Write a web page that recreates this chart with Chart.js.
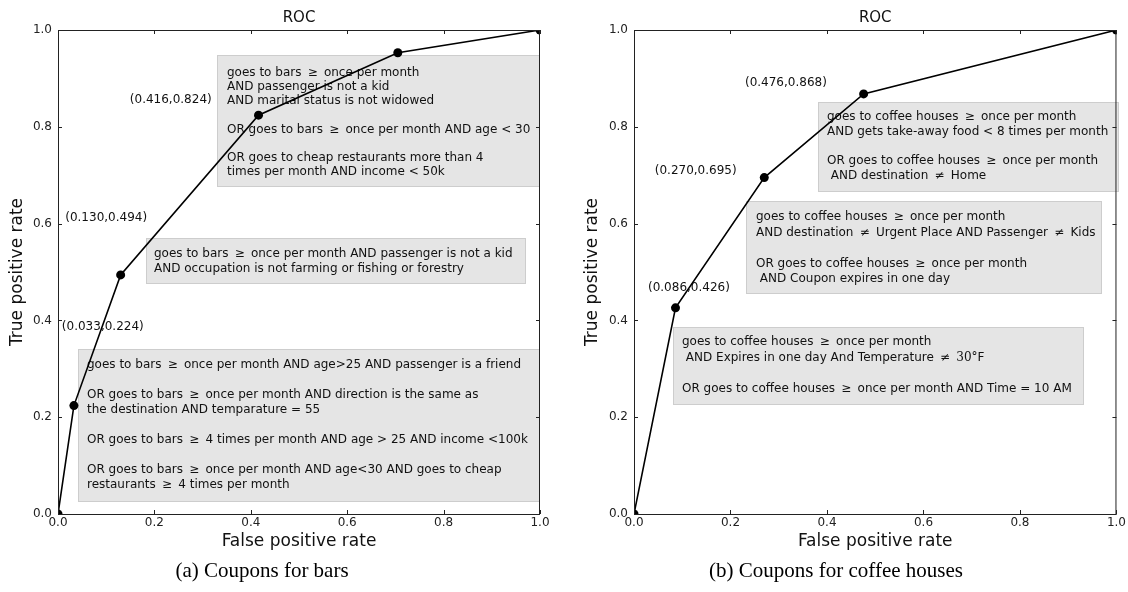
<!DOCTYPE html>
<html><head><meta charset="utf-8">
<script src="https://cdn.jsdelivr.net/npm/chart.js@4.4.0/dist/chart.umd.min.js"></script>
<style>
html,body{margin:0;padding:0;background:#fff;}
#wrap{position:relative;width:1128px;height:592px;overflow:hidden;}
.cv{position:absolute;top:0;width:564px;height:592px;}
</style></head><body>
<div id="wrap">
<div class="cv" style="left:0"><canvas id="c1" width="564" height="592"></canvas></div>
<div class="cv" style="left:564px"><canvas id="c2" width="564" height="592"></canvas></div>
</div>
<script>
// ---------- data ----------
const tickValues = [0, 0.2, 0.4, 0.6, 0.8, 1.0];
const tickLabels = ['0.0', '0.2', '0.4', '0.6', '0.8', '1.0'];

const barsFPR = [0, 0.033, 0.130, 0.416, 0.705, 1.0];
const barsTPR = [0, 0.224, 0.494, 0.824, 0.953, 1.0];
const barsPointLabels = ['', '(0.033,0.224)', '(0.130,0.494)', '(0.416,0.824)', '', ''];

const coffeeFPR = [0, 0.086, 0.270, 0.476, 1.0];
const coffeeTPR = [0, 0.426, 0.695, 0.868, 1.0];
const coffeePointLabels = ['', '(0.086,0.426)', '(0.270,0.695)', '(0.476,0.868)', ''];

const GE = '\u2009\u2265\u2009', NE = '\u2009\u2260\u2009';
const barsRuleTop = [
  'goes to bars ' + GE + ' once per month',
  'AND passenger is not a kid',
  'AND marital status is not widowed',
  '',
  'OR goes to bars ' + GE + ' once per month AND age < 30',
  '',
  'OR goes to cheap restaurants more than 4',
  'times per month AND income < 50k'
];
const barsRuleMid = [
  'goes to bars ' + GE + ' once per month AND passenger is not a kid',
  'AND occupation is not farming or fishing or forestry'
];
const barsRuleLow = [
  'goes to bars ' + GE + ' once per month AND age>25 AND passenger is a friend',
  '',
  'OR goes to bars ' + GE + ' once per month AND direction is the same as',
  'the destination AND temparature = 55',
  '',
  'OR goes to bars ' + GE + ' 4 times per month AND age > 25 AND income <100k',
  '',
  'OR goes to bars ' + GE + ' once per month AND age<30 AND goes to cheap',
  'restaurants ' + GE + ' 4 times per month'
];
const coffeeRuleTop = [
  'goes to coffee houses ' + GE + ' once per month',
  'AND gets take-away food < 8 times per month',
  '',
  'OR goes to coffee houses ' + GE + ' once per month',
  ' AND destination ' + NE + ' Home'
];
const coffeeRuleMid = [
  'goes to coffee houses ' + GE + ' once per month',
  'AND destination ' + NE + ' Urgent Place AND Passenger ' + NE + ' Kids',
  '',
  'OR goes to coffee houses ' + GE + ' once per month',
  ' AND Coupon expires in one day'
];
const coffeeRuleLow = [
  'goes to coffee houses ' + GE + ' once per month',
  ' AND Expires in one day And Temperature ' + NE + ' {30\u00b0}F',
  '',
  'OR goes to coffee houses ' + GE + ' once per month AND Time = 10 AM'
];

// ---------- layout (positions in data units of each axes) ----------
const leftLayout = {
  yAxisWidth: 58, rightPad: 24, yTitleX: 18, captionX: 262,
  caption: '(a) Coupons for bars',
  boxes: [
    {lines: barsRuleTop, x0: 0.330, x1: 1.0, y0: 0.676, y1: 0.949, padX: 10, firstY: 18, lh: 14.15},
    {lines: barsRuleMid, x0: 0.183, x1: 0.971, y0: 0.476, y1: 0.571, padX: 8, firstY: 16, lh: 15},
    {lines: barsRuleLow, x0: 0.041, x1: 1.0, y0: 0.025, y1: 0.341, padX: 9, firstY: 16, lh: 15}
  ],
  labelPos: [null, [0.008, 0.387], [0.015, 0.612], [0.149, 0.856], null, null]
};
const rightLayout = {
  yAxisWidth: 70, rightPad: 11, yTitleX: 29, captionX: 272,
  caption: '(b) Coupons for coffee houses',
  boxes: [
    {lines: coffeeRuleTop, x0: 0.381, x1: 1.006, y0: 0.666, y1: 0.852, padX: 9, firstY: 15, lh: 14.75},
    {lines: coffeeRuleMid, x0: 0.232, x1: 0.971, y0: 0.455, y1: 0.647, padX: 10, firstY: 16, lh: 15.5},
    {lines: coffeeRuleLow, x0: 0.081, x1: 0.932, y0: 0.225, y1: 0.387, padX: 9, firstY: 15, lh: 15.67}
  ],
  labelPos: [null, [0.029, 0.467], [0.043, 0.709], [0.230, 0.891], null]
};

const SANS = '"DejaVu Sans", sans-serif';

function drawRich(ctx, line, x, y) {
  const parts = line.split(/\{([^}]*)\}/);
  let cx = x;
  parts.forEach((p, i) => {
    if (!p) return;
    ctx.font = i % 2 ? '12px "DejaVu Serif", serif' : '12px ' + SANS;
    ctx.fillText(p, cx, y);
    cx += ctx.measureText(p).width;
  });
}

function decoPlugin(L, pointLabels) {
  return {
    id: 'deco',
    beforeDatasetsDraw(chart) {
      const ctx = chart.ctx, xs = chart.scales.x, ys = chart.scales.y;
      ctx.save();
      L.boxes.forEach(b => {
        const l = Math.round(xs.getPixelForValue(b.x0)), r = Math.round(xs.getPixelForValue(b.x1));
        const t = Math.round(ys.getPixelForValue(b.y1)), bt = Math.round(ys.getPixelForValue(b.y0));
        ctx.fillStyle = '#e5e5e5';
        ctx.fillRect(l, t, r - l, bt - t);
        ctx.strokeStyle = '#cdcdcd';
        ctx.lineWidth = 1;
        ctx.strokeRect(l + 0.5, t + 0.5, r - l - 1, bt - t - 1);
        ctx.fillStyle = '#111';
        ctx.textAlign = 'left';
        ctx.textBaseline = 'middle';
        b.lines.forEach((ln, i) => drawRich(ctx, ln, l + b.padX, t + b.firstY + i * b.lh));
      });
      ctx.fillStyle = '#111';
      ctx.font = '12px ' + SANS;
      ctx.textAlign = 'left';
      ctx.textBaseline = 'middle';
      pointLabels.forEach((txt, i) => {
        const p = L.labelPos[i];
        if (!txt || !p) return;
        ctx.fillText(txt, xs.getPixelForValue(p[0]), ys.getPixelForValue(p[1]));
      });
      ctx.restore();
    },
    afterDraw(chart) {
      const ctx = chart.ctx, a = chart.chartArea, xs = chart.scales.x, ys = chart.scales.y;
      ctx.save();
      ctx.strokeStyle = '#222';
      ctx.lineWidth = 1;
      ctx.strokeRect(a.left + 0.5, a.top + 0.5, a.right - a.left - 1, a.bottom - a.top);
      ctx.beginPath();
      tickValues.forEach(v => {
        const px = Math.round(xs.getPixelForValue(v)) + 0.5;
        ctx.moveTo(px, a.bottom); ctx.lineTo(px, a.bottom - 4);
        ctx.moveTo(px, a.top); ctx.lineTo(px, a.top + 4);
        const py = Math.round(ys.getPixelForValue(v)) + 0.5;
        ctx.moveTo(a.left, py); ctx.lineTo(a.left + 4, py);
        ctx.moveTo(a.right, py); ctx.lineTo(a.right - 4, py);
      });
      ctx.stroke();
      const cx = (a.left + a.right) / 2;
      ctx.fillStyle = '#111';
      ctx.textAlign = 'center';
      ctx.textBaseline = 'middle';
      ctx.font = '15px ' + SANS;
      ctx.fillText('ROC', cx, 18);
      ctx.font = '17px ' + SANS;
      ctx.fillText('False positive rate', cx, 542);
      ctx.save();
      ctx.translate(L.yTitleX, (a.top + a.bottom) / 2);
      ctx.rotate(-Math.PI / 2);
      ctx.fillText('True positive rate', 0, 0);
      ctx.restore();
      ctx.fillStyle = '#000';
      ctx.font = '21px "Liberation Serif", "Times New Roman", serif';
      ctx.fillText(L.caption, L.captionX, 571);
      ctx.restore();
    }
  };
}

function makeChart(id, xs, ys, pointLabels, L) {
  const pts = xs.map((v, i) => ({x: v, y: ys[i]}));
  return new Chart(document.getElementById(id), {
    type: 'scatter',
    data: {datasets: [{
      data: pts, showLine: true, borderColor: '#000', borderWidth: 1.6,
      pointRadius: 4.5, pointHoverRadius: 4.5, pointBackgroundColor: '#000', pointBorderColor: '#000',
      pointBorderWidth: 0, clip: 0, tension: 0
    }]},
    options: {
      responsive: false, animation: false, devicePixelRatio: 1,
      layout: {padding: {left: 0, top: 30, right: L.rightPad, bottom: 0}},
      plugins: {legend: {display: false}, tooltip: {enabled: false}, title: {display: false}},
      scales: {
        x: {type: 'linear', min: 0, max: 1,
          grid: {display: false, drawTicks: false}, border: {display: false},
          afterBuildTicks: s => { s.ticks = tickValues.map(v => ({value: v})); },
          ticks: {callback: (v) => tickLabels[tickValues.indexOf(v)] ?? '', padding: 2, maxRotation: 0,
                  color: '#222', font: {family: 'DejaVu Sans', size: 12}},
          afterFit: s => { s.height = 78; }
        },
        y: {type: 'linear', min: 0, max: 1,
          grid: {display: false, drawTicks: false}, border: {display: false},
          afterBuildTicks: s => { s.ticks = tickValues.map(v => ({value: v})); },
          ticks: {callback: (v) => tickLabels[tickValues.indexOf(v)] ?? '', padding: 6,
                  color: '#222', font: {family: 'DejaVu Sans', size: 12}},
          afterFit: s => { s.width = L.yAxisWidth; }
        }
      }
    },
    plugins: [decoPlugin(L, pointLabels)]
  });
}

makeChart('c1', barsFPR, barsTPR, barsPointLabels, leftLayout);
makeChart('c2', coffeeFPR, coffeeTPR, coffeePointLabels, rightLayout);
</script>
</body></html>
